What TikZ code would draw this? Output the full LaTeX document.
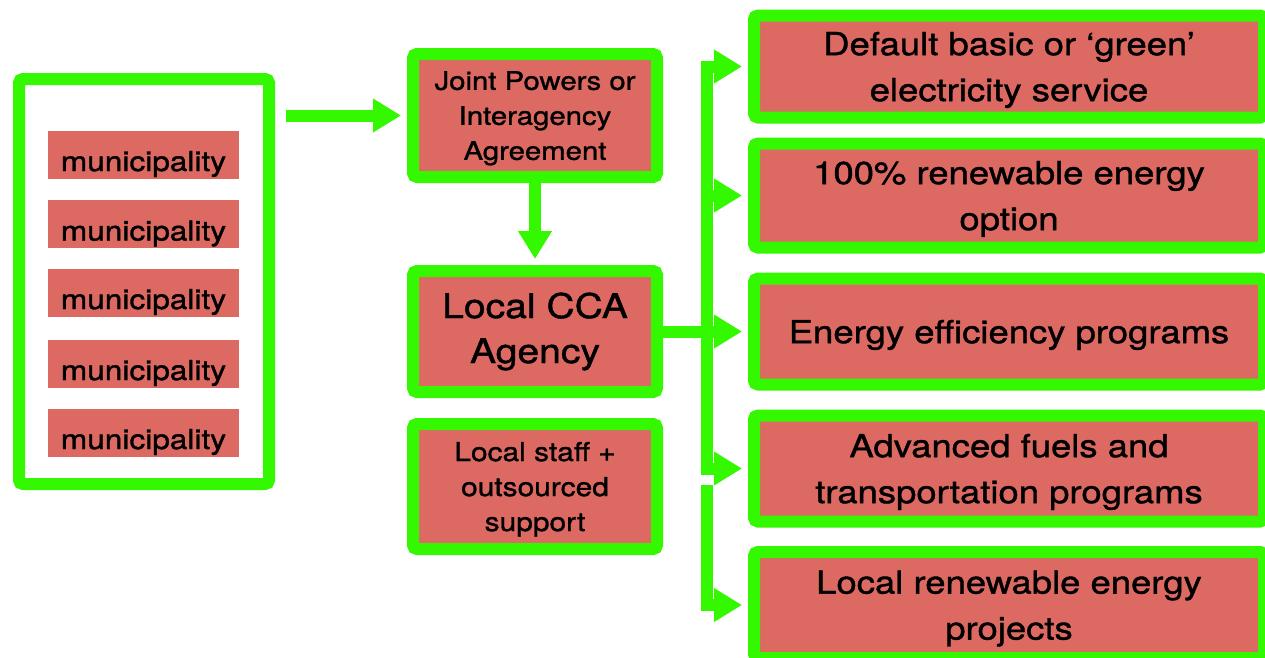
\documentclass[tikz,border=0pt]{standalone}
\usepackage{fontspec}
\setmainfont[FakeStretch=1.15,FakeBold=1.2]{TeX Gyre Heros}
\usetikzlibrary{arrows.meta}
\definecolor{grn}{RGB}{52,248,0}
\definecolor{sal}{RGB}{220,105,98}
\begin{document}
\begin{tikzpicture}[x=1pt,y=-1pt,
  gbox/.style={draw=grn, line width=12pt, fill=sal, rounded corners=4pt, align=center, inner sep=0pt, text=black},
  rbox/.style={gbox, minimum width=510pt, text depth=-4pt, font=\fontsize{31.7}{46}\selectfont},
  muni/.style={fill=sal, minimum width=191pt, minimum height=48pt, inner sep=0pt, text=black, text height=33pt, text depth=0pt, font=\fontsize{27.5}{30}\selectfont},
  conn/.style={draw=grn, line width=12pt},
  arr/.style={conn, -{Triangle[length=28pt,width=32pt]}, shorten >=6pt},
]
\fill[white] (0,0) rectangle (1265,657);
\useasboundingbox (0,0) rectangle (1265,657);

% left group
\node[gbox, fill=white, minimum width=250pt, minimum height=405pt] (grp) at (144,281.5) {};
\node[muni] (m1) at (143.5,154.5) {municipality};
\node[muni] (m2) at (143.5,224) {municipality};
\node[muni] (m3) at (143.5,292.5) {municipality};
\node[muni] (m4) at (143.5,363.5) {municipality};
\node[muni] (m5) at (143.5,432.5) {municipality};

% middle column
\node[gbox, minimum width=244pt, minimum height=123pt, text depth=-4.5pt, font=\fontsize{25.5}{35}\selectfont] (jpa) at (535,115.5) {Joint Powers or\\Interagency\\Agreement};
\node[gbox, minimum width=244pt, minimum height=121pt, font=\fontsize{34}{45}\selectfont] (cca) at (535,331.5) {Local CCA\\Agency};
\node[gbox, minimum width=244pt, minimum height=125pt, text depth=-3pt, font=\fontsize{26}{35}\selectfont] (staff) at (535,486.5) {Local staff +\\outsourced\\support};

% right column
\node[rbox, minimum height=102pt] (b1) at (1009,66.5) {Default basic or `green'\\electricity service};
\node[rbox, minimum height=104pt] (b2) at (1009,195.5) {100\% renewable energy\\option};
\node[rbox, minimum height=106pt] (b3) at (1009,331.5) {Energy efficiency programs};
\node[rbox, minimum height=106pt] (b4) at (1009,468.5) {Advanced fuels and\\transportation programs};
\node[rbox, minimum height=106pt] (b5) at (1009,605) {Local renewable energy\\projects};

% connectors
\draw[arr, shorten <=11pt] (grp.east |- jpa.west) -- (jpa.west);
\draw[arr] (jpa.south) -- (cca.north);
\coordinate (sx) at (707,0);
\coordinate (s2) at (707,491);
\draw[conn, line cap=rect] (sx |- b1.west) -- (sx |- b4.west);
\draw[conn, line cap=rect] (s2) -- (sx |- b5.west);
\draw[arr] (sx |- b1.west) -- (b1.west);
\draw[arr] (sx |- b2.west) -- (b2.west);
\draw[arr] (cca.east) -- (b3.west);
\draw[arr] (sx |- b4.west) -- (b4.west);
\draw[arr] (sx |- b5.west) -- (b5.west);
\end{tikzpicture}
\end{document}
